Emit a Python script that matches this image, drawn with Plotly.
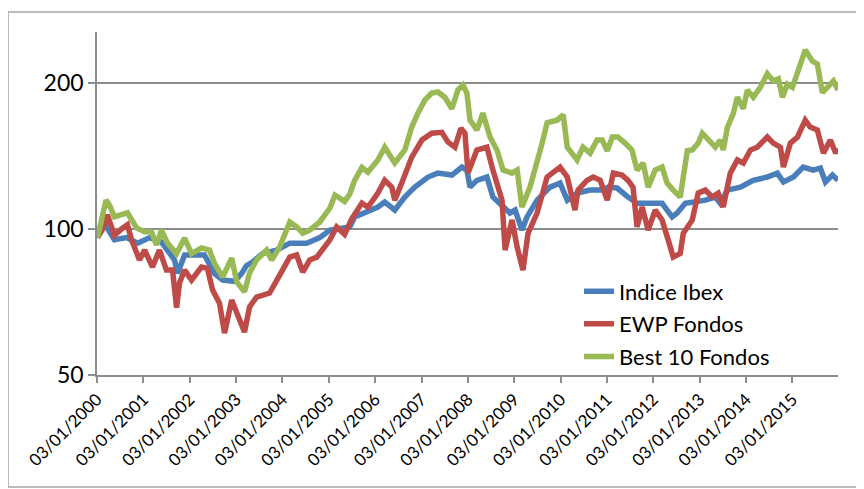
import plotly.graph_objects as go

# ---------------- data ----------------
ibex_dates = ["2000-01-07","2000-03-01","2000-05-19","2000-08-23","2000-11-18","2001-02-21","2001-05-25",
 "2001-09-05","2001-09-29","2001-11-23","2002-04-28","2002-07-16","2002-09-19","2002-12-22","2003-02-16",
 "2003-03-25","2003-05-12","2003-07-30","2003-11-19","2004-03-01","2004-07-12","2004-10-23","2005-01-11",
 "2005-04-22","2005-06-16","2005-07-25","2005-10-13","2006-01-24","2006-03-19","2006-06-06","2006-08-24",
 "2006-11-11","2007-02-23","2007-05-11","2007-08-30","2007-11-17","2007-12-26","2008-01-20","2008-03-14",
 "2008-06-01","2008-07-18","2008-10-06","2008-11-30","2009-01-09","2009-03-04","2009-04-13","2009-07-01",
 "2009-10-12","2009-12-29","2010-02-24","2010-05-12","2010-08-23","2010-12-04","2011-01-13","2011-03-23",
 "2011-06-18","2011-08-28","2012-01-18","2012-03-12","2012-05-30","2012-07-09","2012-09-11","2012-11-29",
 "2013-02-16","2013-05-05","2013-06-13","2013-08-08","2013-11-19","2014-03-01","2014-06-19","2014-09-06",
 "2014-10-24","2015-01-11","2015-03-29","2015-06-16","2015-08-11","2015-09-20","2015-11-14","2015-12-28"]
ibex = [96,102.7,95,96,93.5,96,94,86.3,81,88.4,88.4,81,78.5,78,81,84,85.5,89,90.5,93.5,93.5,96,99.5,
 100.5,101,105.9,107.9,111,113.7,109.4,116.4,122,128,130.4,129.2,134.2,132.3,122,126,128,116.4,111,107.9,
 109.4,99.5,105.9,114.7,122,124.4,114.7,118.6,120.3,120.3,122,121.5,116.4,113,113,113,105.9,107.9,113,
 113.7,114.7,116.4,113,120.3,122,126,128,130.4,125,128,134.2,132.3,133.5,125,129.2,126]

ewp_dates = ["2000-01-07","2000-02-16","2000-03-25","2000-05-19","2000-07-14","2000-08-30","2000-10-01",
 "2000-12-03","2001-01-12","2001-03-15","2001-05-09","2001-07-03","2001-08-20","2001-09-21","2001-10-14",
 "2001-11-23","2002-01-17","2002-04-05","2002-05-22","2002-07-01","2002-08-25","2002-10-04","2002-11-29",
 "2003-01-08","2003-03-10","2003-04-19","2003-06-13","2003-09-24","2003-11-19","2004-03-01","2004-04-24",
 "2004-06-11","2004-08-05","2004-09-30","2005-01-11","2005-03-05","2005-05-07","2005-07-02","2005-09-20",
 "2005-11-06","2006-01-24","2006-03-19","2006-05-13","2006-06-06","2006-07-31","2006-10-18","2007-01-06",
 "2007-03-24","2007-06-12","2007-07-29","2007-09-23","2007-11-09","2007-12-11","2008-01-04","2008-03-14",
 "2008-06-01","2008-07-18","2008-09-28","2008-10-22","2008-12-16","2009-01-25","2009-03-12","2009-04-21",
 "2009-07-01","2009-09-18","2009-12-29","2010-02-24","2010-04-26","2010-05-20","2010-07-29","2010-09-16",
 "2010-11-10","2011-01-05","2011-02-22","2011-05-01","2011-06-18","2011-07-27","2011-08-28","2011-10-07",
 "2011-11-23","2012-01-18","2012-03-12","2012-04-29","2012-06-08","2012-08-02","2012-08-26","2012-11-05",
 "2012-12-22","2013-02-16","2013-04-11","2013-05-28","2013-07-07","2013-08-31","2013-10-26","2013-12-12",
 "2014-02-06","2014-04-01","2014-06-19","2014-08-05","2014-09-30","2014-10-24","2014-12-18","2015-02-12",
 "2015-04-14","2015-05-23","2015-07-18","2015-09-04","2015-10-29","2015-12-10","2015-12-28"]
ewp = [96,100,107,97,100,102,95,86.3,90.5,83.5,90.5,82.3,82.3,68.8,77.4,82.3,78.5,83.5,83,74.9,70.3,61,
 71.4,67,61.3,69.1,72.4,73.8,78.5,87.5,88.4,81.5,86.3,87.5,95,101,97.5,105,113.1,110.9,118.6,126,122,
 114.7,124.4,140.7,152.6,157.6,158.3,151.2,147.5,161.4,157.6,130.4,145.5,147.5,132.3,114.7,90.5,104.4,
 91.8,82.3,98,107.9,128,134.2,128,109.4,120.3,126,128,126,114.7,130.4,129.2,126,122,101,111,99.5,109.4,
 104.4,95,87.5,89,98,104.4,118.6,120.3,116.4,118.6,111,130.4,138.8,136.8,145.5,147.5,154.8,150.4,147.5,
 134.2,150.4,154.8,167.7,162.3,160,143.4,152.6,143.4,146.6]

best_dates = ["2000-01-07","2000-02-08","2000-03-14","2000-04-10","2000-05-19","2000-07-06","2000-08-30",
 "2000-11-10","2001-01-12","2001-03-07","2001-04-16","2001-05-25","2001-07-11","2001-09-21","2001-11-23",
 "2002-01-17","2002-04-05","2002-06-07","2002-07-16","2002-09-19","2002-11-29","2003-01-08","2003-03-10",
 "2003-04-19","2003-06-13","2003-08-31","2003-10-10","2003-12-12","2004-03-01","2004-04-24","2004-06-11",
 "2004-08-05","2004-10-23","2005-01-11","2005-02-20","2005-05-07","2005-06-16","2005-07-25","2005-09-20",
 "2005-11-06","2006-01-24","2006-03-19","2006-05-13","2006-06-06","2006-08-24","2006-10-18","2006-12-05",
 "2007-01-30","2007-03-24","2007-05-11","2007-07-05","2007-08-30","2007-10-16","2007-11-25","2007-12-26",
 "2008-01-20","2008-03-14","2008-04-30","2008-06-25","2008-08-19","2008-10-06","2008-12-16","2009-01-25",
 "2009-03-04","2009-05-06","2009-07-01","2009-08-09","2009-09-18","2009-12-06","2010-01-23","2010-02-24",
 "2010-05-12","2010-06-28","2010-08-23","2010-10-17","2010-11-26","2011-01-05","2011-02-14","2011-03-30",
 "2011-05-25","2011-07-19","2011-08-28","2011-10-15","2011-11-23","2012-01-18","2012-03-12","2012-04-21",
 "2012-06-08","2012-08-02","2012-08-26","2012-09-27","2012-11-05","2012-12-22","2013-01-23","2013-03-10",
 "2013-05-05","2013-06-13","2013-07-07","2013-08-08","2013-09-24","2013-10-26","2013-12-12","2014-01-13",
 "2014-03-01","2014-04-25","2014-06-19","2014-08-05","2014-09-14","2014-10-16","2014-11-24","2015-01-03",
 "2015-02-12","2015-04-14","2015-06-08","2015-07-18","2015-08-27","2015-10-13","2015-11-22","2015-12-28"]
best = [96,105,114.7,112,106,107,108,100.5,98.7,98.6,92.7,99.5,93.5,89,95.8,89,91.4,90.5,85,79.6,87.1,
 77.8,74.2,81.2,86.3,90.5,86.3,91.8,103.4,101,98,99.5,103.4,110.5,117.5,114,118,126,134,131,138.8,147.5,
 140.7,136.8,145.5,162.3,173.4,184.6,190.8,191.7,187,177,193.5,198,190.8,167.7,160,173.4,154.8,145.5,
 132.3,130.4,132.3,111,122,136.8,150,165.6,167.7,172,147.5,138.8,147.5,143.4,152.6,152.6,145,154.8,154.8,
 150.4,145.5,132.3,136.8,122,132.3,134.2,124.4,120.3,116.4,128,145,145.5,150.4,157.6,152.6,147.5,152.6,
 145.5,162,173,187,177,193.5,187,196,209,202,204,187,199,196,209,234,222,219,191,196,202,193.5]

series_names = ["Indice Ibex", "EWP Fondos", "Best 10 Fondos"]
tick_years = list(range(2000, 2016))
tick_dates = [f"{y}-01-03" for y in tick_years]
tick_labels = [f"03/01/{y}" for y in tick_years]
y_ticks = [50, 100, 200]

# ---------------- figure ----------------
FONT = "Lato, Carlito, Calibri, sans-serif"
colors = ["#4A7EBB", "#BE4B48", "#98B954"]

fig = go.Figure()
for name, xs, ys, col in zip(series_names, [ibex_dates, ewp_dates, best_dates],
                             [ibex, ewp, best], colors):
    fig.add_trace(go.Scatter(x=xs, y=ys, mode="lines", name=name, legendgroup=name,
                             line=dict(color=col, width=5.5, shape="linear")))

grid_col = "#8C8C8C"
# page body has an 8px margin, so the figure is 856x481 placed at (8, 8)
fig.update_layout(
    width=856, height=481,
    margin=dict(l=89, r=26, t=24, b=114, pad=0),
    paper_bgcolor="white", plot_bgcolor="white",
    font=dict(family=FONT, color="black"),
    showlegend=True,
    legend=dict(x=0.6505, y=0.305, xanchor="left", yanchor="top",
                bgcolor="rgba(0,0,0,0)", borderwidth=0,
                font=dict(size=22, family=FONT, color="black"),
                tracegroupgap=1, itemwidth=30),
    xaxis=dict(type="date", range=["2000-01-03", "2015-12-28"],
               tickmode="array", tickvals=tick_dates, ticktext=tick_labels,
               tickangle=-45, tickfont=dict(size=17, family=FONT, color="black"),
               showgrid=False, showline=True, linecolor=grid_col, linewidth=1.5,
               ticks="outside", ticklen=6, tickcolor=grid_col, tickwidth=1.5,
               zeroline=False, automargin=False),
    yaxis=dict(type="log", range=[1.69897, 2.4063],
               tickmode="array", tickvals=y_ticks, ticktext=[str(v) for v in y_ticks],
               tickfont=dict(size=23, family=FONT, color="black"),
               showgrid=True, gridcolor=grid_col, gridwidth=1.5,
               showline=True, linecolor=grid_col, linewidth=1.5,
               ticks="outside", ticklen=7, tickcolor=grid_col, tickwidth=1.5,
               zeroline=False, automargin=False),
    shapes=[dict(type="rect", xref="paper", yref="paper",
                 x0=-0.1201, x1=1.027, y0=-0.3265, y1=1.0583,
                 line=dict(color="#A6A6A6", width=1.5), fillcolor="rgba(0,0,0,0)",
                 layer="below")],
)

fig.write_html("out.html")
